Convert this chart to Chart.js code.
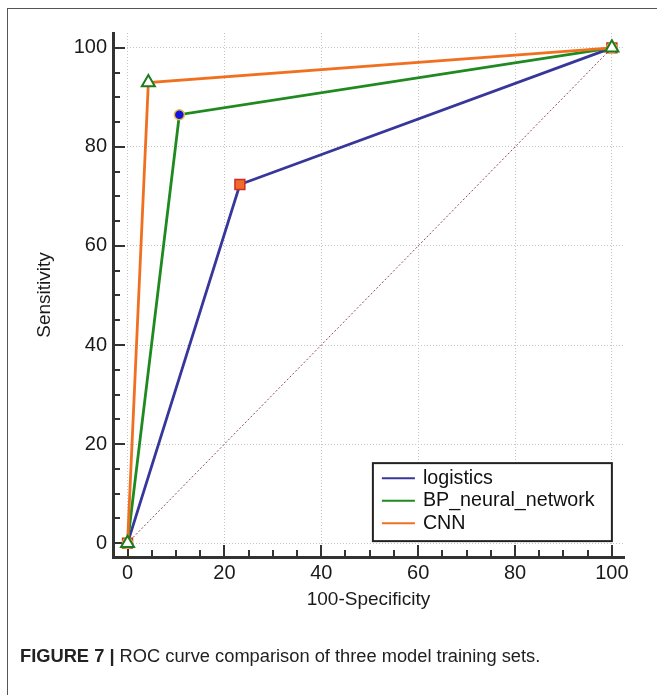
<!DOCTYPE html>
<html>
<head>
<meta charset="utf-8">
<title>ROC curve comparison</title>
<script src="https://cdn.jsdelivr.net/npm/chart.js@4.4.0/dist/chart.umd.min.js"></script>
<style>
    html, body {
        margin: 0;
        background: #fff;
        overflow: hidden;
        font-family: "Liberation Sans", Arial, sans-serif;
    }

    .frame {
        position: absolute;
        left: 7px;
        top: 8px;
        width: 720px;
        height: 760px;
        border: 1px solid #555;
    }

    #wrap {
        position: absolute;
        left: 0;
        top: 0;
        width: 657px;
        height: 695px;
    }

    .caption {
        position: absolute;
        left: 20px;
        top: 645px;
        font-size: 18.3px;
        color: #222;
        white-space: nowrap;
    }
</style>
</head>
<body>
<div class="frame"></div>
<div id="wrap"><canvas id="roc"></canvas></div>
<div class="caption"><b>FIGURE 7 |</b> ROC curve comparison of three model training sets.</div>
<script>
    // Data (100-Specificity, Sensitivity)
    const seriesNames = ['logistics', 'BP_neural_network', 'CNN'];
    const logisticsX = [0, 23.2, 100];
    const logisticsY = [0, 72.4, 100];
    const bpX = [0, 10.7, 100];
    const bpY = [0, 86.5, 100];
    const cnnX = [0, 4.3, 100];
    const cnnY = [0, 93.0, 100];
    const diagX = [0, 100];
    const diagY = [0, 100];

    const xTicks = [0, 20, 40, 60, 80, 100];
    const yTicks = [0, 20, 40, 60, 80, 100];
    const minorStep = 5;

    const pts = (xs, ys) => xs.map((v, i) => ({ x: v, y: ys[i] }));
    const FONT = '"Liberation Sans", Arial, sans-serif';

    // inward tick marks (major + minor) on both axes
    const tickMarks = {
        id: 'tickMarks',
        beforeDatasetsDraw(chart) {
            const { ctx, chartArea, scales: { x, y } } = chart;
            ctx.save();
            ctx.strokeStyle = '#333';
            ctx.lineWidth = 2;
            for (let v = 0; v <= 100; v += minorStep) {
                const len = v % 20 === 0 ? 12 : 7;
                const py = Math.round(y.getPixelForValue(v));
                ctx.beginPath();
                ctx.moveTo(chartArea.left, py);
                ctx.lineTo(chartArea.left + len, py);
                ctx.stroke();
                const px = Math.round(x.getPixelForValue(v));
                ctx.beginPath();
                ctx.moveTo(px, chartArea.bottom);
                ctx.lineTo(px, chartArea.bottom - len);
                ctx.stroke();
            }
            ctx.restore();
        }
    };

    // boxed legend sitting in the lower right of the plot
    const legendBox = {
        id: 'legendBox',
        afterDraw(chart) {
            const { ctx, scales: { x, y } } = chart;
            const right = x.getPixelForValue(100);
            const bottom = y.getPixelForValue(0) - 2;
            const w = 239, h = 78;
            const left = right - w, top = bottom - h;
            ctx.save();
            ctx.fillStyle = '#fff';
            ctx.fillRect(left, top, w, h);
            ctx.strokeStyle = '#222';
            ctx.lineWidth = 2;
            ctx.strokeRect(left, top, w, h);
            ctx.font = '19.7px ' + FONT;
            ctx.textBaseline = 'middle';
            ctx.fillStyle = '#111';
            chart.data.datasets.forEach((ds, i) => {
                if (ds.inLegend === false) return;
                const cy = top + 15 + i * 22.5;
                ctx.strokeStyle = ds.borderColor;
                ctx.lineWidth = 2;
                ctx.beginPath();
                ctx.moveTo(left + 9, cy);
                ctx.lineTo(left + 42, cy);
                ctx.stroke();
                ctx.fillText(ds.label, left + 50, cy);
            });
            ctx.restore();
        }
    };

    const gridColor = '#c4c4c4';

    new Chart(document.getElementById('roc'), {
        type: 'scatter',
        data: {
            datasets: [
                {
                    label: seriesNames[0], data: pts(logisticsX, logisticsY), showLine: true,
                    borderColor: '#37379b', borderWidth: 2.8,
                    pointStyle: 'rect', pointRadius: 7,
                    pointBackgroundColor: '#f26a2a', pointBorderColor: '#c8302a', pointBorderWidth: 1.5,
                    order: 2
                },
                {
                    label: seriesNames[1], data: pts(bpX, bpY), showLine: true,
                    borderColor: '#1f8a1f', borderWidth: 2.8,
                    pointStyle: 'circle', pointRadius: 5,
                    pointBackgroundColor: '#1414e6', pointBorderColor: '#e6c23a', pointBorderWidth: 1.5,
                    order: 1
                },
                {
                    label: seriesNames[2], data: pts(cnnX, cnnY), showLine: true,
                    borderColor: '#f07020', borderWidth: 2.8,
                    pointStyle: 'triangle', pointRadius: 7.5,
                    pointBackgroundColor: '#fff', pointBorderColor: '#1d7a1d', pointBorderWidth: 2,
                    order: 0
                },
                {
                    label: 'reference', data: pts(diagX, diagY), showLine: true, inLegend: false,
                    borderColor: '#8a4a5a', borderWidth: 1, borderDash: [2, 2],
                    pointRadius: 0, order: 3
                }
            ]
        },
        options: {
            responsive: true,
            maintainAspectRatio: false,
            animation: false,
            layout: { padding: { left: 0, top: 33, right: 33, bottom: 78 } },
            plugins: { legend: { display: false }, tooltip: { enabled: false } },
            scales: {
                x: {
                    type: 'linear', min: -3, max: 102.5,
                    afterBuildTicks: (s) => { s.ticks = xTicks.map(v => ({ value: v })); },
                    afterFit: (s) => { s.height = 60; },
                    grid: { color: gridColor, lineWidth: 1, drawTicks: false },
                    border: { color: '#333', width: 3, dash: [1, 2] },
                    ticks: { color: '#1a1a1a', padding: 4, font: { family: FONT, size: 20 }, maxRotation: 0 },
                    title: { display: true, text: '100-Specificity', color: '#1a1a1a', font: { family: FONT, size: 19 }, padding: { top: 0, bottom: 6 } }
                },
                y: {
                    type: 'linear', min: -2.8, max: 103,
                    afterBuildTicks: (s) => { s.ticks = yTicks.map(v => ({ value: v })); },
                    afterFit: (s) => { s.width = 113; },
                    grid: { color: gridColor, lineWidth: 1, drawTicks: false },
                    border: { color: '#333', width: 3, dash: [1, 2] },
                    ticks: { color: '#1a1a1a', padding: 6, font: { family: FONT, size: 20 } },
                    title: { display: true, text: 'Sensitivity', color: '#1a1a1a', font: { family: FONT, size: 19 }, padding: { top: 33, bottom: 0 } }
                }
            }
        },
        plugins: [tickMarks, legendBox]
    });
</script>
</body>
</html>
